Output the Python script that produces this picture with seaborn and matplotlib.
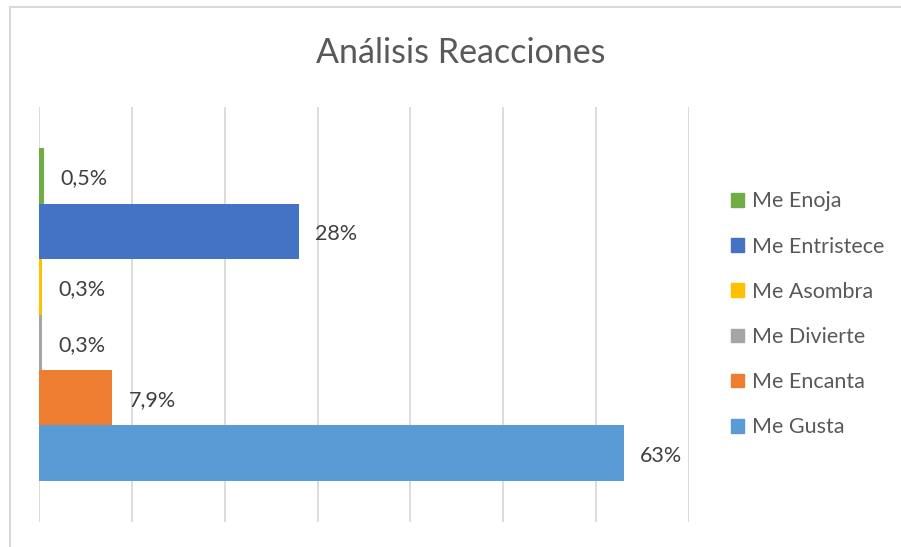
import matplotlib
matplotlib.use("Agg")
import matplotlib.pyplot as plt
import matplotlib.patches as mpatches
import seaborn as sns
import pandas as pd

# data
reacciones = ["Me Enoja", "Me Entristece", "Me Asombra", "Me Divierte", "Me Encanta", "Me Gusta"]
porcentajes = [0.5, 28, 0.3, 0.3, 7.9, 63]
etiquetas = ["0,5%", "28%", "0,3%", "0,3%", "7,9%", "63%"]
colores = ["#70AD47", "#4472C4", "#FFC000", "#A5A5A5", "#ED7D31", "#5B9BD5"]

df = pd.DataFrame({"reaccion": reacciones, "pct": porcentajes})

sns.set_style("white")
plt.rcParams["font.family"] = ["Lato", "DejaVu Sans"]

fig = plt.figure(figsize=(9.01, 5.47), dpi=100)
ax = fig.add_axes([39 / 901, 1 - 522 / 547, (689 - 39) / 901, (522 - 107) / 547])

sns.barplot(data=df, y="reaccion", x="pct", hue="reaccion", palette=colores,
            orient="h", width=1.0, legend=False, ax=ax, saturation=1, linewidth=0)

ax.set_xlim(0, 70)
ax.set_ylim(6.24, -1.24)
ax.set_xticks(range(0, 71, 10))
ax.grid(axis="x", color="#d9d9d9", linewidth=1.3)
ax.set_axisbelow(True)
ax.set_yticks([])
ax.tick_params(axis="x", length=0, labelbottom=False)
ax.set_xlabel("")
ax.set_ylabel("")
for s in ax.spines.values():
    s.set_visible(False)

for i, (v, t) in enumerate(zip(porcentajes, etiquetas)):
    ax.text(v + 1.75, i + 0.05, t, va="center", ha="left", fontsize=15.5, color="#404040")

fig.text(461 / 901, 1 - 53 / 547, "Análisis Reacciones", ha="center", va="center",
         fontsize=24.5, color="#595959")

handles = [mpatches.Patch(color=c, label=r) for r, c in zip(reacciones, colores)]
leg = fig.legend(handles=handles, loc="upper left", bbox_to_anchor=(712 / 901, 1 - 172 / 547),
                 frameon=False, fontsize=15.5, labelcolor="#595959", handlelength=0.6,
                 handleheight=0.6, handletextpad=0.35, labelspacing=1.17)

# outer chart border
fig.add_artist(mpatches.Rectangle((10 / 901, -0.05), 1.2, 1 - 7 / 547 + 0.05,
                                  transform=fig.transFigure, fill=False,
                                  edgecolor="#d9d9d9", linewidth=1.5))

fig.savefig("out.png", dpi=100)
